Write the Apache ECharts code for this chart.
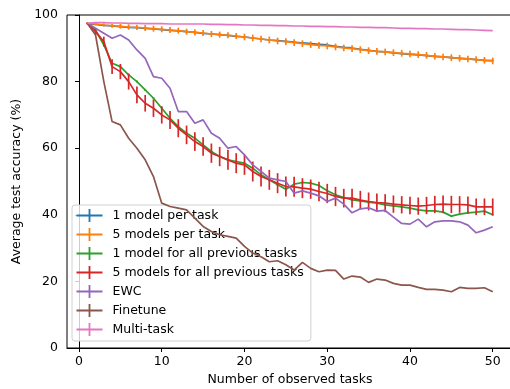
<!DOCTYPE html>
<html>
<head>
<meta charset="utf-8">
<script src="https://cdn.jsdelivr.net/npm/echarts@6/dist/echarts.min.js"></script>
<style>
  html, body { margin: 0; padding: 0; background: #fff; }
  #chart { width: 510px; height: 389px; }
</style>
</head>
<body>
<div id="chart"></div>
<script>
// Number of observed tasks
const tasks = [1,2,3,4,5,6,7,8,9,10,11,12,13,14,15,16,17,18,19,20,21,22,23,24,25,
               26,27,28,29,30,31,32,33,34,35,36,37,38,39,40,41,42,43,44,45,46,47,48,49,50];

// Average test accuracy (%) per method
const oneModelPerTask = [97.4,97.2,96.9,96.7,96.5,96.3,96.2,96.0,95.8,95.6,95.4,95.2,95.0,94.8,94.5,94.3,94.1,93.9,93.6,93.4,
                         93.1,92.8,92.5,92.3,92.1,91.9,91.6,91.4,91.2,91.0,90.6,90.3,90.1,89.7,89.4,89.1,88.9,88.6,88.4,88.2,
                         88.0,87.8,87.6,87.4,87.2,87.0,86.8,86.6,86.4,86.3];
const fiveModelsPerTask = [97.5,97.3,97.0,96.8,96.6,96.4,96.3,96.1,95.9,95.7,95.5,95.3,95.0,94.8,94.6,94.3,94.1,93.9,93.7,93.4,
                           93.1,92.8,92.5,92.2,92.0,91.7,91.4,91.1,90.9,90.7,90.4,90.1,89.9,89.6,89.3,89.1,88.9,88.7,88.5,88.3,
                           88.1,87.9,87.6,87.4,87.2,87.0,86.8,86.6,86.4,86.2];
const oneModelAllPrev = [97.5,95.5,91.0,85.5,84.5,82.0,80.0,77.5,75.0,72.0,69.0,66.5,64.5,63.0,61.0,59.0,57.5,56.5,56.0,55.5,
                         54.0,52.0,50.5,49.0,47.7,49.2,49.7,49.5,48.8,47.2,46.0,45.2,44.5,44.2,43.8,43.5,43.0,42.7,42.4,42.0,
                         41.5,41.2,41.2,40.8,39.6,40.2,40.6,40.8,41.1,40.0];
const fiveModelsAllPrev = [97.5,95.0,92.0,84.5,83.0,80.0,76.0,73.5,72.0,70.0,68.5,66.0,64.0,62.0,60.5,58.5,57.5,56.5,55.5,55.0,
                           53.0,51.5,50.5,49.5,48.5,48.4,48.0,47.7,47.0,46.4,45.5,45.0,45.0,44.4,44.0,43.7,43.5,43.2,43.0,42.8,
                           42.6,42.8,43.1,43.2,43.1,43.1,43.0,42.4,42.4,42.4];
const ewc = [97.5,96.0,94.5,93.0,94.0,92.5,89.5,87.0,81.5,81.0,78.0,71.0,71.0,67.5,68.5,64.5,63.0,60.0,60.5,58.0,
             55.0,53.0,51.0,50.5,50.0,46.5,47.2,46.5,45.7,44.0,45.0,43.2,40.6,41.8,42.1,41.1,41.3,39.3,37.4,37.2,
             38.7,36.4,37.9,38.2,38.2,37.9,36.9,34.6,35.4,36.4];
const finetune = [97.5,94.0,80.0,68.0,67.0,63.0,60.0,56.5,51.5,43.5,42.5,42.0,41.5,39.0,36.5,35.0,34.0,33.5,33.0,30.5,
                  28.5,27.4,25.9,26.2,25.0,23.4,25.7,23.9,22.9,23.4,23.3,20.7,21.6,21.3,19.7,20.7,20.4,19.4,18.9,18.9,
                  18.2,17.6,17.6,17.4,16.9,18.2,17.9,17.9,18.1,16.9];
const multiTask = [97.5,97.7,97.7,97.6,97.6,97.5,97.5,97.4,97.4,97.4,97.3,97.3,97.3,97.3,97.3,97.2,97.2,97.1,97.1,97.0,
                   97.0,96.9,96.9,96.8,96.8,96.7,96.7,96.6,96.6,96.5,96.5,96.4,96.4,96.3,96.3,96.2,96.2,96.1,96.0,96.0,
                   95.9,95.9,95.8,95.8,95.7,95.6,95.6,95.5,95.4,95.3];

// Error bar half-heights
const oneModelPerTaskErr = [0.1,0.2,0.2,0.2,0.3,0.3,0.3,0.3,0.3,0.3,0.3,0.3,0.3,0.3,0.3,0.3,0.3,0.3,0.3,0.3,
                            0.3,0.3,0.3,0.3,0.3,0.3,0.3,0.3,0.3,0.3,0.3,0.3,0.3,0.3,0.3,0.3,0.3,0.3,0.3,0.3,
                            0.3,0.3,0.3,0.3,0.3,0.3,0.3,0.3,0.3,0.3];
const fiveModelsPerTaskErr = [0.2,0.4,0.5,0.6,0.7,0.8,0.8,0.9,0.9,0.9,0.9,0.9,0.9,0.9,0.9,0.9,0.9,0.9,0.9,1.0,
                              1.0,1.0,1.0,1.0,1.0,1.0,1.0,1.0,1.0,1.0,1.0,1.0,1.0,1.0,1.0,1.0,1.0,1.0,1.0,1.0,
                              1.0,1.0,1.0,1.0,1.0,1.0,1.0,1.0,1.0,1.0];
const oneModelAllPrevErr = [0.1,0.2,0.3,0.3,0.3,0.3,0.3,0.3,0.3,0.3,0.3,0.3,0.3,0.3,0.3,0.3,0.3,0.3,0.3,0.3,
                            0.3,0.3,0.3,0.3,0.3,0.3,0.3,0.3,0.3,0.3,0.3,0.3,0.3,0.3,0.3,0.3,0.3,0.3,0.3,0.3,
                            0.3,0.3,0.3,0.3,0.3,0.3,0.3,0.3,0.3,0.3];
const fiveModelsAllPrevErr = [0.3,1.0,1.5,2.2,2.3,2.4,2.5,2.5,2.6,2.6,2.7,2.7,2.8,2.8,2.8,2.9,2.9,3.0,3.0,3.0,
                              3.0,3.0,3.0,3.0,3.0,3.0,3.0,2.9,2.9,2.9,2.9,2.8,2.8,2.8,2.7,2.7,2.7,2.6,2.6,2.6,
                              2.6,2.6,2.6,2.6,2.6,2.5,2.5,2.5,2.5,2.5];
const ewcErr = [];
const finetuneErr = [];
const multiTaskErr = [];

const seriesNames = ['1 model per task', '5 models per task', '1 model for all previous tasks',
                     '5 models for all previous tasks', 'EWC', 'Finetune', 'Multi-task'];
const seriesColors = ['#1f77b4', '#ff7f0e', '#2ca02c', '#d62728', '#9467bd', '#8c564b', '#e377c2'];
const seriesValues = [oneModelPerTask, fiveModelsPerTask, oneModelAllPrev, fiveModelsAllPrev, ewc, finetune, multiTask];
const seriesErrors = [oneModelPerTaskErr, fiveModelsPerTaskErr, oneModelAllPrevErr, fiveModelsAllPrevErr, ewcErr, finetuneErr, multiTaskErr];

const xTicks = [0, 10, 20, 30, 40, 50];
const FONT = 'DejaVu Sans';
const FS = 12.5;
const LW = 1.7;

// Error-bar glyph used in the legend: a horizontal stroke crossed by a vertical one
const crossIcon = 'path://M0,5.6h26v1.8h-26z M12.1,0h1.8v13h-1.8z';

const series = [];
seriesNames.forEach((name, k) => {
  const vals = seriesValues[k];
  const errs = seriesErrors[k];
  series.push({
    name: name,
    type: 'line',
    data: tasks.map((t, i) => [t, vals[i]]),
    showSymbol: false,
    symbol: 'none',
    color: seriesColors[k],
    lineStyle: { width: LW, color: seriesColors[k] },
    z: 2 + k,
    silent: true
  });
  if (errs.length) {
    series.push({
      name: name,
      type: 'custom',
      data: tasks.map((t, i) => [t, vals[i], errs[i]]),
      encode: { x: 0, y: 1 },
      color: seriesColors[k],
      z: 2 + k,
      silent: true,
      renderItem: (params, api) => {
        const x = api.value(0), y = api.value(1), e = api.value(2);
        const lo = api.coord([x, y - e]);
        const hi = api.coord([x, y + e]);
        return {
          type: 'line',
          shape: { x1: lo[0], y1: lo[1], x2: hi[0], y2: hi[1] },
          style: { stroke: seriesColors[k], lineWidth: LW }
        };
      }
    });
  }
});

const chart = echarts.init(document.getElementById('chart'), null, { renderer: 'canvas' });
chart.setOption({
  animation: false,
  backgroundColor: '#fff',
  textStyle: { fontFamily: FONT },
  grid: {
    left: 67, top: 15, width: 446, height: 333,
    containLabel: false,
    outerBoundsMode: 'none',
    show: true, borderColor: '#000', borderWidth: 1, backgroundColor: 'transparent'
  },
  xAxis: {
    type: 'value',
    min: -1.45, max: 52.45,
    name: 'Number of observed tasks',
    nameLocation: 'middle',
    nameGap: 23,
    nameTextStyle: { fontSize: FS, color: '#000', fontFamily: FONT },
    axisLine: { show: true, lineStyle: { color: '#000', width: 1 } },
    axisTick: { show: true, length: 4, customValues: xTicks, lineStyle: { color: '#000' } },
    axisLabel: { customValues: xTicks, margin: 7, fontSize: FS, color: '#000', fontFamily: FONT },
    splitLine: { show: false }
  },
  yAxis: {
    type: 'value',
    min: 0, max: 100, interval: 20,
    name: 'Average test accuracy (%)',
    nameLocation: 'middle',
    nameGap: 38,
    nameTextStyle: { fontSize: FS, color: '#000', fontFamily: FONT },
    axisLine: { show: true, lineStyle: { color: '#000', width: 1 } },
    axisTick: { show: true, length: 4, lineStyle: { color: '#000' } },
    axisLabel: { margin: 9, fontSize: FS, color: '#000', fontFamily: FONT },
    splitLine: { show: false }
  },
  legend: {
    orient: 'vertical',
    left: 72, top: 205,
    padding: [4, 7, 5, 4.5],
    itemGap: 6,
    itemWidth: 26,
    itemHeight: 13,
    backgroundColor: 'rgba(255,255,255,0.8)',
    borderColor: '#d0d0d0',
    borderWidth: 1,
    borderRadius: 3,
    selectedMode: false,
    textStyle: { fontSize: FS, color: '#000', fontFamily: FONT, padding: [0, 0, 0, 5] },
    itemStyle: { borderWidth: 0 },
    lineStyle: { width: 0 },
    data: seriesNames.map(n => ({ name: n, icon: crossIcon }))
  },
  series: series
});
</script>
</body>
</html>
